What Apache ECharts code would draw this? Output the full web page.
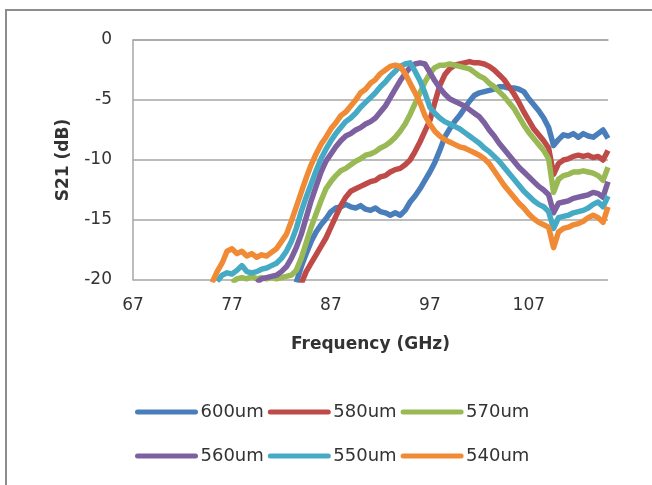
<!DOCTYPE html>
<html>
<head>
<meta charset="utf-8">
<script src="https://cdn.jsdelivr.net/npm/echarts@6/dist/echarts.min.js"></script>
<style>
  html, body { margin: 0; padding: 0; background: #fff; }
  #chart { width: 652px; height: 485px; }
</style>
</head>
<body>
<div id="chart"></div>
<script>
// 频率 (GHz), 0.5 GHz 一格
const freq = [
  67, 67.5, 68, 68.5, 69, 69.5, 70, 70.5, 71, 71.5,
  72, 72.5, 73, 73.5, 74, 74.5, 75, 75.5, 76, 76.5,
  77, 77.5, 78, 78.5, 79, 79.5, 80, 80.5, 81, 81.5,
  82, 82.5, 83, 83.5, 84, 84.5, 85, 85.5, 86, 86.5,
  87, 87.5, 88, 88.5, 89, 89.5, 90, 90.5, 91, 91.5,
  92, 92.5, 93, 93.5, 94, 94.5, 95, 95.5, 96, 96.5,
  97, 97.5, 98, 98.5, 99, 99.5, 100, 100.5, 101, 101.5,
  102, 102.5, 103, 103.5, 104, 104.5, 105, 105.5, 106, 106.5,
  107, 107.5, 108, 108.5, 109, 109.5, 110, 110.5, 111, 111.5,
  112, 112.5, 113, 113.5, 114, 114.5, 115
];
const xTickLabels = [67, 77, 87, 97, 107];
const seriesNames = ['600um', '580um', '570um', '560um', '550um', '540um'];

function pad(n) {
  return new Array(n).fill(null);
}

// S21 (dB)
const s600 = pad(33).concat([
  -20.2, -18.9, -17.8,
  -16.8, -16.0, -15.4, -14.9, -14.3, -14.0, -13.9, -13.7, -13.9, -14.0,
  -13.8, -14.1, -14.2, -14.0, -14.3, -14.4, -14.6, -14.4, -14.6, -14.2,
  -13.5, -13.0, -12.4, -11.7, -11.0, -10.2, -9.2, -8.1, -7.4, -6.8,
  -6.3, -5.7, -5.1, -4.6, -4.4, -4.3, -4.2, -4.1, -3.9, -3.9,
  -4.0, -4.0, -4.1, -4.3, -4.9, -5.4, -5.9, -6.5, -7.3, -8.8,
  -8.3, -7.9, -8.0, -7.8, -8.1, -7.8, -8.0, -8.1, -7.8, -7.5,
  -8.2
]);
const s580 = pad(34).concat([
  -20.3, -19.3,
  -18.6, -17.9, -17.2, -16.5, -15.6, -14.7, -13.8, -13.1, -12.6, -12.4,
  -12.2, -12.0, -11.8, -11.7, -11.4, -11.3, -11.0, -10.8, -10.7, -10.4,
  -10.0, -9.3, -8.5, -7.6, -6.7, -5.2, -3.8, -2.9, -2.4, -2.1,
  -2.0, -1.9, -1.8, -1.9, -1.9, -2.0, -2.2, -2.5, -2.9, -3.3,
  -3.9, -4.5, -5.2, -6.0, -6.7, -7.4, -7.9, -8.4, -9.0, -11.2,
  -10.3, -10.0, -9.9, -9.7, -9.6, -9.7, -9.6, -9.8, -9.7, -10.0,
  -9.2
]);
const s570 = pad(20).concat([
  -20.2, -19.9, -19.8, -19.9, -19.7, -19.9,
  -19.8, -19.9, -19.8, -19.9, -19.8, -19.7, -19.6, -19.2, -18.2, -16.9,
  -15.6, -14.5, -13.4, -12.4, -11.8, -11.3, -10.9, -10.7, -10.4, -10.1,
  -9.9, -9.6, -9.5, -9.3, -9.0, -8.8, -8.5, -8.1, -7.6, -7.0,
  -6.2, -5.3, -4.4, -3.5, -2.8, -2.3, -2.1, -2.1, -2.0, -2.1,
  -2.2, -2.3, -2.4, -2.7, -3.0, -3.2, -3.6, -3.9, -4.3, -4.7,
  -5.2, -5.7, -6.4, -7.1, -7.7, -8.2, -8.7, -9.2, -9.9, -12.7,
  -11.6, -11.3, -11.2, -11.0, -11.0, -10.9, -11.0, -11.1, -11.3, -11.7,
  -10.6
]);
const s560 = pad(25).concat([
  -20.2,
  -19.9, -19.8, -19.7, -19.6, -19.3, -18.9, -18.2, -17.3, -16.2, -14.8,
  -13.4, -12.2, -11.0, -10.1, -9.5, -8.9, -8.4, -8.0, -7.8, -7.5,
  -7.3, -7.0, -6.8, -6.5, -6.0, -5.5, -4.8, -4.1, -3.4, -2.8,
  -2.3, -2.0, -1.9, -2.0, -2.7, -3.4, -4.0, -4.5, -4.9, -5.1,
  -5.3, -5.5, -5.8, -6.1, -6.4, -6.9, -7.5, -8.0, -8.6, -9.1,
  -9.6, -10.1, -10.6, -11.0, -11.4, -11.8, -12.2, -12.5, -12.9, -14.4,
  -13.6, -13.5, -13.4, -13.2, -13.1, -13.0, -12.9, -12.7, -12.8, -13.1,
  -11.8
]);
const s550 = pad(17).concat([
  -20.1, -19.6, -19.4, -19.5, -19.2, -18.8, -19.3, -19.4, -19.3,
  -19.1, -19.0, -18.8, -18.6, -18.2, -17.6, -16.8, -15.7, -14.3, -13.1,
  -12.0, -10.9, -9.9, -9.1, -8.4, -7.8, -7.3, -6.8, -6.5, -6.1,
  -5.6, -5.2, -4.8, -4.4, -3.9, -3.5, -3.0, -2.6, -2.2, -2.0,
  -1.9, -2.6, -3.4, -4.4, -5.6, -6.1, -6.5, -6.8, -7.0, -7.2,
  -7.4, -7.7, -8.0, -8.3, -8.6, -9.0, -9.3, -9.7, -10.1, -10.6,
  -11.1, -11.6, -12.1, -12.6, -13.0, -13.4, -13.7, -13.9, -14.3, -15.7,
  -14.8, -14.7, -14.6, -14.4, -14.3, -14.2, -14.0, -13.7, -13.5, -13.9,
  -13.0
]);
const s540 = pad(16).concat([
  -20.2, -19.3, -18.6, -17.6, -17.4, -17.8, -17.6, -18.0, -17.8, -18.1,
  -17.9, -18.0, -17.7, -17.4, -16.8, -16.2, -15.1, -13.9, -12.7, -11.5,
  -10.4, -9.5, -8.7, -8.1, -7.4, -6.9, -6.3, -6.0, -5.5, -5.0,
  -4.4, -4.1, -3.6, -3.3, -2.8, -2.5, -2.2, -2.1, -2.2, -2.8,
  -3.6, -4.4, -5.2, -6.3, -7.0, -7.6, -8.0, -8.3, -8.5, -8.7,
  -8.9, -9.0, -9.2, -9.4, -9.6, -9.9, -10.3, -10.9, -11.5, -12.1,
  -12.6, -13.1, -13.6, -14.0, -14.5, -14.9, -15.2, -15.4, -15.6, -17.3,
  -16.0, -15.7, -15.6, -15.4, -15.3, -15.1, -14.8, -14.6, -14.8, -15.2,
  -13.9
]);

const allSeries = [s600, s580, s570, s560, s550, s540];
const colors = ['#4a7ebb', '#be4b48', '#98b954', '#7d60a0', '#46aac5', '#f08a35'];

const chart = echarts.init(document.getElementById('chart'));

const textColor = '#333';
const fontFamily = 'DejaVu Sans';

// 图例分两行, 每行一个 legend
function legendRow(names, top) {
  return {
    data: names,
    left: 135,
    top: top,
    padding: 0,
    itemWidth: 58,
    itemHeight: 10,
    itemGap: 4,
    itemStyle: { opacity: 0 },
    lineStyle: { width: 5, cap: 'round' },
    textStyle: { fontSize: 18, color: textColor, fontFamily: fontFamily, padding: [0, 0, 0, 0] }
  };
}

const option = {
  backgroundColor: '#fff',
  color: colors,
  animation: false,
  textStyle: { fontFamily: fontFamily },
  graphic: [
    {
      type: 'rect',
      silent: true,
      shape: { x: 6, y: 10, width: 700, height: 600 },
      style: { fill: 'none', stroke: '#8c8c8c', lineWidth: 2 }
    }
  ],
  grid: {
    left: 133,
    right: 44,
    top: 40,
    bottom: 205
  },
  legend: [
    legendRow(seriesNames.slice(0, 3), 403),
    legendRow(seriesNames.slice(3), 447)
  ],
  xAxis: {
    type: 'category',
    data: freq,
    boundaryGap: false,
    name: 'Frequency (GHz)',
    nameLocation: 'middle',
    nameGap: 56,
    nameTextStyle: { fontSize: 17, fontWeight: 'bold', color: textColor, fontFamily: fontFamily },
    axisLine: { show: true, lineStyle: { color: '#a6a6a6', width: 1.5 } },
    axisTick: { show: false },
    axisLabel: {
      margin: 17,
      fontSize: 17,
      color: textColor,
      fontFamily: fontFamily,
      interval: function (idx, val) {
        return xTickLabels.indexOf(Number(val)) >= 0;
      }
    },
    splitLine: { show: false }
  },
  yAxis: {
    type: 'value',
    min: -20,
    max: 0,
    interval: 5,
    name: 'S21 (dB)',
    nameLocation: 'middle',
    nameGap: 61,
    nameTextStyle: { fontSize: 17, fontWeight: 'bold', color: textColor, fontFamily: fontFamily },
    axisLine: { show: true, lineStyle: { color: '#a6a6a6', width: 1.5 } },
    axisTick: { show: false },
    axisLabel: { margin: 21, fontSize: 17, color: textColor, fontFamily: fontFamily },
    splitLine: { lineStyle: { color: '#a6a6a6', width: 1.5 } }
  },
  series: allSeries.map(function (vals, i) {
    return {
      name: seriesNames[i],
      type: 'line',
      data: vals,
      symbol: 'none',
      connectNulls: false,
      clip: true,
      lineStyle: { width: 5.5, color: colors[i], join: 'round' },
      itemStyle: { color: colors[i] },
      z: 2 + i
    };
  })
};

chart.setOption(option);
</script>
</body>
</html>
